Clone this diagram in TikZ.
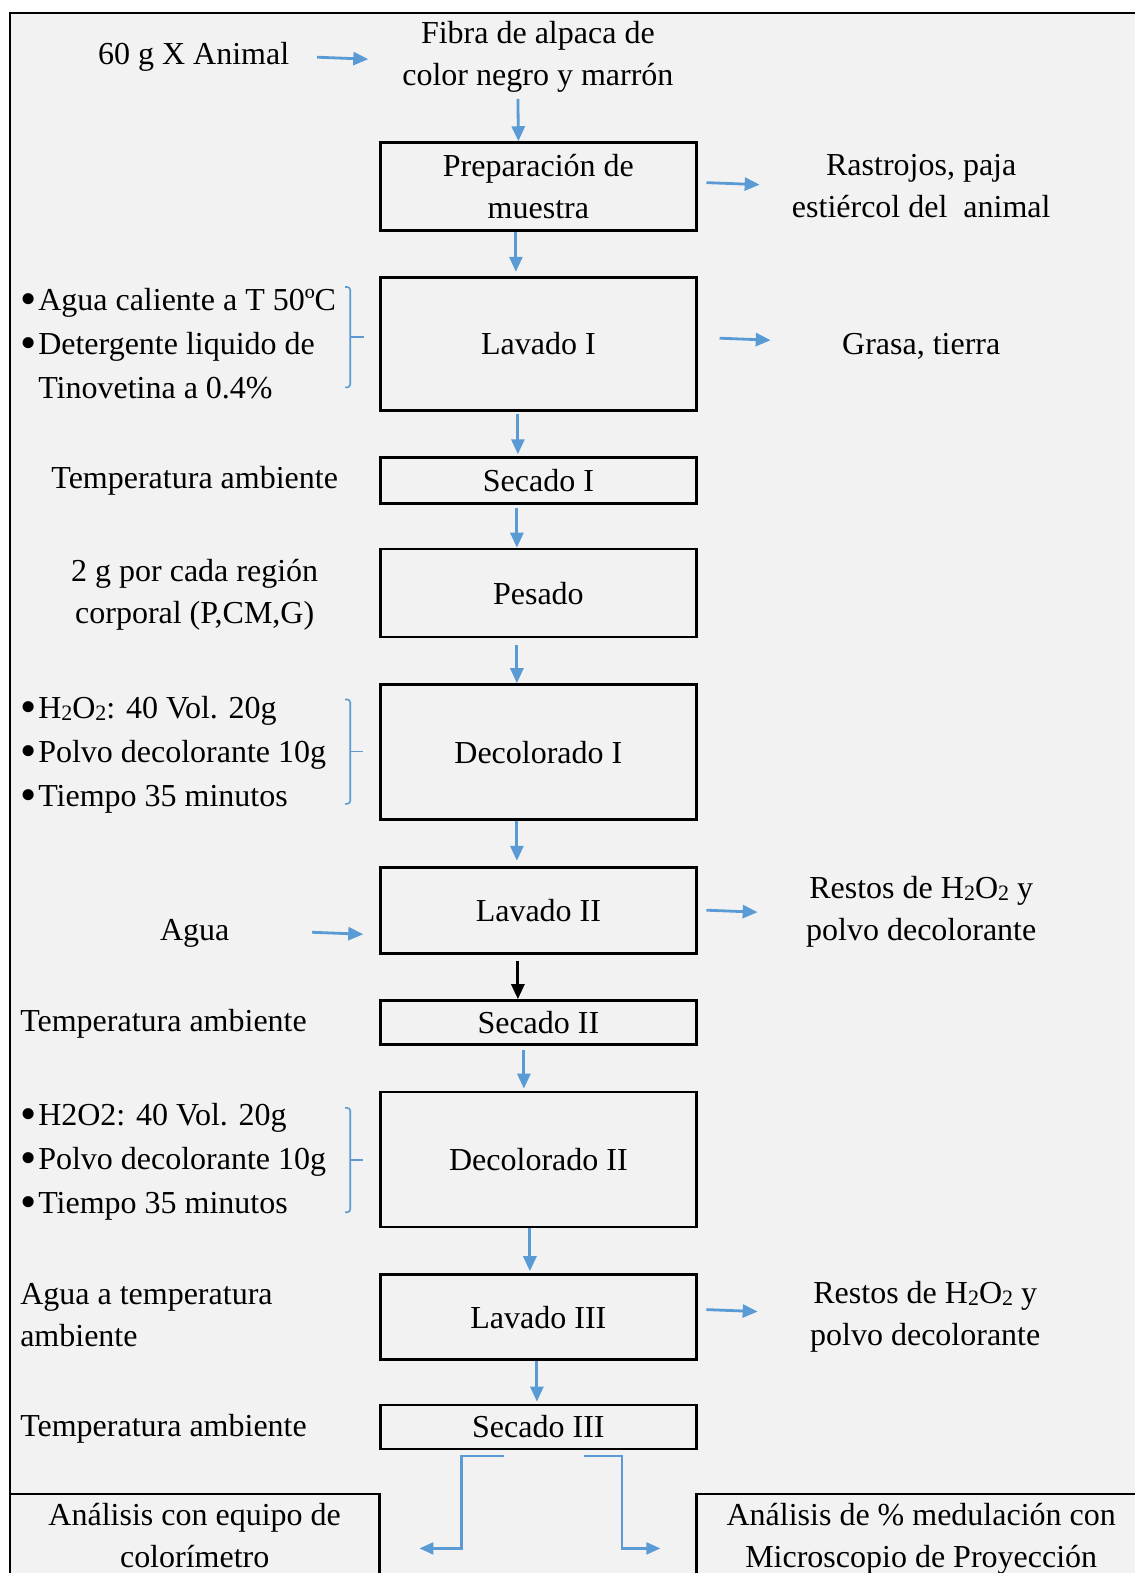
\documentclass[tikz,border=0pt]{standalone}
\usepackage{fontspec}
\setmainfont{Liberation Serif}
\usetikzlibrary{arrows.meta}
\definecolor{bgc}{HTML}{F2F2F2}
\definecolor{blc}{HTML}{5B9BD5}
\newcommand{\bul}{\makebox[18pt][l]{\raisebox{-3.5pt}{\scalebox{1.45}{\textbullet}}}}
\newcommand{\subtwo}{\raisebox{-2pt}{\fontsize{22}{22}\selectfont 2}}
\newcommand{\hhoo}{H\subtwo O\subtwo}
\begin{document}
\begin{tikzpicture}[x=1.00354pt,y=-1.00354pt,
  every node/.style={font=\fontsize{32}{42}\selectfont, inner sep=0pt},
  box/.style={draw, line width=2.8pt, minimum width=316pt, align=center},
  txt/.style={align=center},
  ltxt/.style={align=left, anchor=west},
  lst/.style={align=left, anchor=west, font=\fontsize{32}{44}\selectfont},
  arr/.style={blc, line width=2.8pt, -{Triangle[length=15pt,width=13pt]}},
  earr/.style={blc, line width=2.3pt, -{Triangle[length=14pt,width=12pt]}},
  barr/.style={black, line width=2.8pt, -{Triangle[length=15pt,width=13pt]}},
  brk/.style={blc, line width=1.6pt, rounded corners=3pt},
  frame/.style={black, line width=2.5pt}]
\useasboundingbox (0,0) rectangle (1131,1567.5);
\fill[bgc] (10,13) rectangle (1145,1585);
\draw[frame] (10,1585) -- (10,13) -- (1145,13);

% main boxes
\node[box, minimum height=88pt] (b1) at (536.5,186) {Preparación de\\muestra};
\node[box, minimum height=133pt] (b2) at (536.5,342.5) {Lavado I};
\node[box, minimum height=46pt] (b3) at (536.5,479) {Secado I};
\node[box, minimum height=88pt] (b4) at (536.5,591) {Pesado};
\node[box, minimum height=135pt] (b5) at (536.5,749.5) {Decolorado I};
\node[box, minimum height=86pt] (b6) at (536.5,907) {Lavado II};
\node[box, minimum height=44pt] (b7) at (536.5,1019) {Secado II};
\node[box, minimum height=135pt] (b8) at (536.5,1155.5) {Decolorado II};
\node[box, minimum height=85pt] (b9) at (536.5,1312.5) {Lavado III};
\node[box, minimum height=44pt] (b10) at (536.5,1422) {Secado III};

% side texts
\node[txt] (animal) at (193,57) {60 g X Animal};
\node[txt] (fibra) at (536,57) {Fibra de alpaca de\\color negro y marrón};
\node[txt] (rastro) at (918,185.5) {Rastrojos, paja\\estiércol del\ \ animal};
\node[txt] (grasa) at (918,345) {Grasa, tierra};
\node[lst] (l1) at (20,342.5) {\bul Agua caliente a T 50ºC\\\bul Detergente liquido de\\\hspace*{18pt}Tinovetina a 0.4\%};
\node[txt] (t1) at (194,479.5) {Temperatura ambiente};
\node[txt] (gpr) at (194,592.5) {2 g por cada región\\corporal (P,CM,G)};
\node[lst] (l2) at (20,752.5) {\bul \hhoo: 40 Vol. 20g\\\bul Polvo decolorante 10g\\\bul Tiempo 35 minutos};
\node[txt] (agua) at (194,930) {Agua};
\node[txt] (restos1) at (918,909) {Restos de \hhoo{} y\\polvo decolorante};
\node[ltxt] (t2) at (20,1020.5) {Temperatura ambiente};
\node[lst] (l3) at (20,1158) {\bul H2O2: 40 Vol. 20g\\\bul Polvo decolorante 10g\\\bul Tiempo 35 minutos};
\node[ltxt] (aguaamb) at (20,1310) {Agua a temperatura\\ambiente};
\node[txt] (restos2) at (922,1312.5) {Restos de \hhoo{} y\\polvo decolorante};
\node[ltxt] (t3) at (20,1424) {Temperatura ambiente};

% bottom boxes
\draw[line width=2.5pt] (10,1600) |- (378,1489) -- (378,1600);
\draw[line width=2.5pt] (694,1600) |- (1145,1489);
\node[txt] (an1) at (194,1530) {Análisis con equipo de\\colorímetro};
\node[txt] (an2) at (918,1533.5) {Análisis de \% medulación con\\Microscopio de Proyección};

% brackets
\draw[brk] (344,286) -- (349,286) -- (349,386) -- (344,386);
\draw[brk] (349,336) -- (363,336);
\draw[brk] (344,697) -- (349,697) -- (349,801) -- (344,801);
\draw[brk] (349,749) -- (362,749);
\draw[brk] (344,1104) -- (349,1104) -- (349,1208) -- (344,1208);
\draw[brk] (349,1156) -- (362,1156);

% vertical arrows
\draw[arr, shorten <=6pt] ([xshift=-20]fibra.south) -- ([xshift=-20]b1.north);
\draw[arr, shorten >=4pt] ([xshift=-22.5]b1.south) -- ([xshift=-22.5]b2.north);
\draw[arr, shorten <=2pt, shorten >=2pt] ([xshift=-20.5]b2.south) -- ([xshift=-20.5]b3.north);
\draw[arr, shorten <=3pt] ([xshift=-21.5]b3.south) -- ([xshift=-21.5]b4.north);
\draw[arr, shorten <=7pt] ([xshift=-21.5]b4.south) -- ([xshift=-21.5]b5.north);
\draw[arr, shorten >=5pt] ([xshift=-21.5]b5.south) -- ([xshift=-21.5]b6.north);
\draw[barr, shorten <=6pt] ([xshift=-20.5]b6.south) -- ([xshift=-20.5]b7.north);
\draw[arr, shorten <=4pt, shorten >=2pt] ([xshift=-14.5]b7.south) -- ([xshift=-14.5]b8.north);
\draw[arr, shorten >=2pt] ([xshift=-8.5]b8.south) -- ([xshift=-8.5]b9.north);
\draw[arr, shorten >=2pt] ([xshift=-1.5]b9.south) -- ([xshift=-1.5]b10.north);

% side arrows
\coordinate (s1a) at (316,57); \coordinate (s1b) at (367,59);
\coordinate (s2a) at (704,182); \coordinate (s2b) at (757,184);
\coordinate (s3a) at (717,337); \coordinate (s3b) at (768,339);
\coordinate (s4a) at (311,929); \coordinate (s4b) at (362,931);
\coordinate (s5a) at (704,907); \coordinate (s5b) at (755,909);
\coordinate (s6a) at (704,1305); \coordinate (s6b) at (755,1307);
\draw[arr] (s1a) -- (s1b);
\draw[arr] (s2a) -- (s2b);
\draw[arr] (s3a) -- (s3b);
\draw[arr] (s4a) -- (s4b);
\draw[arr] (s5a) -- (s5b);
\draw[arr] (s6a) -- (s6b);

% elbow arrows
\coordinate (e1a) at (502,1451); \coordinate (e1b) at (418,1543);
\coordinate (e2a) at (582,1451); \coordinate (e2b) at (658,1543);
\draw[earr] (e1a) -- (460,1451) -- (460,1543) -- (e1b);
\draw[earr] (e2a) -- (620,1451) -- (620,1543) -- (e2b);
\end{tikzpicture}
\end{document}
